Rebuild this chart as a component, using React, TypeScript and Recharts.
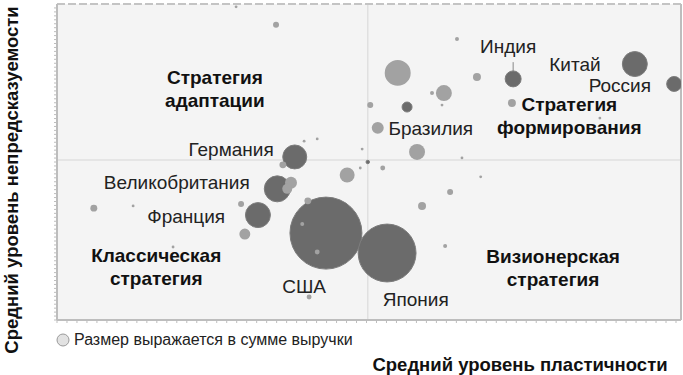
import {
  ScatterChart,
  Scatter,
  XAxis,
  YAxis,
  ZAxis,
  CartesianGrid,
  ReferenceLine,
  ReferenceDot,
} from 'recharts';

// x = средний уровень пластичности, y = средний уровень непредсказуемости, z = выручка
const darkPoints = [
  { x: 7.31, y: 7.63, z: 64 },
  { x: 9.26, y: 8.1, z: 156 },
  { x: 9.89, y: 7.47, z: 56 },
  { x: 5.61, y: 6.74, z: 25 },
  { x: 3.81, y: 5.16, z: 144 },
  { x: 3.53, y: 4.15, z: 169 },
  { x: 3.22, y: 3.32, z: 156 },
  { x: 4.31, y: 2.75, z: 1300 },
  { x: 5.29, y: 2.12, z: 840 },
  { x: 4.98, y: 5.0, z: 3 },
];

const lightPoints = [
  { x: 2.87, y: 9.91, z: 2 },
  { x: 3.51, y: 9.34, z: 9 },
  { x: 5.46, y: 7.82, z: 169 },
  { x: 6.41, y: 8.89, z: 4 },
  { x: 6.73, y: 7.69, z: 16 },
  { x: 6.2, y: 7.18, z: 64 },
  { x: 6.01, y: 7.18, z: 4 },
  { x: 6.17, y: 6.8, z: 2 },
  { x: 5.02, y: 6.8, z: 9 },
  { x: 7.29, y: 6.87, z: 16 },
  { x: 8.7, y: 6.39, z: 2 },
  { x: 5.14, y: 6.08, z: 36 },
  { x: 5.77, y: 5.32, z: 64 },
  { x: 4.89, y: 5.41, z: 2 },
  { x: 6.49, y: 5.13, z: 2 },
  { x: 4.86, y: 4.81, z: 2 },
  { x: 5.22, y: 4.81, z: 6 },
  { x: 4.65, y: 4.59, z: 56 },
  { x: 6.79, y: 4.53, z: 2 },
  { x: 3.96, y: 5.66, z: 2 },
  { x: 4.17, y: 5.73, z: 2 },
  { x: 3.62, y: 4.91, z: 12 },
  { x: 3.75, y: 4.34, z: 36 },
  { x: 3.69, y: 4.15, z: 25 },
  { x: 6.3, y: 4.05, z: 9 },
  { x: 5.85, y: 3.61, z: 16 },
  { x: 6.22, y: 2.34, z: 4 },
  { x: 4.02, y: 3.77, z: 12 },
  { x: 3.93, y: 3.04, z: 4 },
  { x: 4.17, y: 2.15, z: 6 },
  { x: 4.04, y: 0.73, z: 6 },
  { x: 0.59, y: 3.54, z: 12 },
  { x: 1.22, y: 3.61, z: 2 },
  { x: 2.95, y: 3.67, z: 9 },
  { x: 3.01, y: 2.72, z: 30 },
  { x: 1.86, y: 2.31, z: 2 },
];

const countryLabels = [
  { name: 'Индия', x: 7.23, y: 8.67 },
  { name: 'Китай', x: 8.3, y: 8.1 },
  { name: 'Россия', x: 9.02, y: 7.44 },
  { name: 'Бразилия', x: 5.99, y: 6.08 },
  { name: 'Германия', x: 2.79, y: 5.41 },
  { name: 'Великобритания', x: 1.92, y: 4.37 },
  { name: 'Франция', x: 2.07, y: 3.29 },
  { name: 'США', x: 3.96, y: 1.08 },
  { name: 'Япония', x: 5.75, y: 0.66 },
];

const quadrantLabels = [
  { name: 'Стратегия', x: 2.53, y: 7.69 },
  { name: 'адаптации', x: 2.53, y: 6.96 },
  { name: 'Стратегия', x: 8.21, y: 6.84 },
  { name: 'формирования', x: 8.21, y: 6.11 },
  { name: 'Классическая', x: 1.59, y: 2.06 },
  { name: 'стратегия', x: 1.59, y: 1.33 },
  { name: 'Визионерская', x: 7.95, y: 2.03 },
  { name: 'стратегия', x: 7.95, y: 1.3 },
];

const xTicks = Array.from({ length: 63 }, (_, i) => i * 0.16);
const yTicks = Array.from({ length: 80 }, (_, i) => i * 0.125);

const FONT = '"Liberation Sans", Arial, Helvetica, sans-serif';
const DARK = '#6b6b6b';
const LIGHT = '#a2a2a2';
const AXIS = '#bdbdbd';

const App = () => {
  return (
    <div style={{ position: 'absolute', left: 0, top: 0, width: 683, height: 375, background: '#fff', fontFamily: FONT }}>
      <ScatterChart width={683} height={375} margin={{ top: 4, right: 2, bottom: 54, left: 56 }}>
        <CartesianGrid fill="#f4f4f4" horizontal={false} vertical={false} />
        <XAxis
          type="number"
          dataKey="x"
          domain={[0, 10]}
          ticks={xTicks}
          interval={0}
          height={1}
          axisLine={{ stroke: AXIS, strokeWidth: 2 }}
          tickLine={{ stroke: AXIS }}
          tickSize={3}
          tick={() => <g />}
          allowDataOverflow
        />
        <YAxis
          type="number"
          dataKey="y"
          domain={[0, 10]}
          ticks={yTicks}
          interval={0}
          width={1}
          axisLine={{ stroke: AXIS, strokeWidth: 2 }}
          tickLine={{ stroke: AXIS }}
          tickSize={3}
          tick={() => <g />}
          allowDataOverflow
        />
        <ZAxis type="number" dataKey="z" domain={[0, 1300]} range={[0, 4072]} />
        <ReferenceLine x={4.98} stroke="#e0e0e0" strokeWidth={1.5} />
        <ReferenceLine y={5.06} stroke="#e0e0e0" strokeWidth={1.5} />
        <ReferenceLine y={10} stroke="#c4c4c4" strokeWidth={2} strokeDasharray="8 3" />
        <ReferenceLine x={10} stroke={AXIS} strokeWidth={2} />
        <ReferenceLine x={0} stroke={AXIS} strokeWidth={2} />
        <ReferenceLine y={0} stroke={AXIS} strokeWidth={2} />
        <ReferenceLine segment={[{ x: 7.31, y: 8.16 }, { x: 7.31, y: 7.88 }]} stroke="#888" />
        <Scatter data={darkPoints} fill={DARK} stroke="#7c7c7c" strokeWidth={1} isAnimationActive={false} />
        <Scatter data={lightPoints} fill={LIGHT} isAnimationActive={false} />
        {countryLabels.map((l, i) => (
          <ReferenceDot
            key={`c-${i}`}
            x={l.x}
            y={l.y}
            r={0}
            stroke="none"
            label={{ value: l.name, position: 'center', fill: '#222', fontSize: 19, fontFamily: FONT }}
          />
        ))}
        {quadrantLabels.map((l, i) => (
          <ReferenceDot
            key={`q-${i}`}
            x={l.x}
            y={l.y}
            r={0}
            stroke="none"
            label={{ value: l.name, position: 'center', fill: '#111', fontSize: 19, fontWeight: 'bold', fontFamily: FONT }}
          />
        ))}
      </ScatterChart>
      <div
        style={{
          position: 'absolute',
          left: 56,
          top: 331,
          display: 'flex',
          alignItems: 'center',
          fontSize: 16,
          color: '#222',
          whiteSpace: 'nowrap',
        }}
      >
        <svg width={14} height={14} style={{ marginRight: 4 }}>
          <circle cx={7} cy={7} r={6} fill="#e2e2e2" stroke="#9a9a9a" strokeWidth={1} />
        </svg>
        Размер выражается в сумме выручки
      </div>
      <div
        style={{
          position: 'absolute',
          left: 12,
          top: 180,
          transform: 'translate(-50%, -50%) rotate(-90deg)',
          whiteSpace: 'nowrap',
          fontWeight: 'bold',
          fontSize: 18.5,
          color: '#111',
        }}
      >
        Средний уровень непредсказуемости
      </div>
      <div
        style={{
          position: 'absolute',
          left: 520,
          top: 365,
          transform: 'translate(-50%, -50%)',
          whiteSpace: 'nowrap',
          fontWeight: 'bold',
          fontSize: 18.5,
          color: '#111',
        }}
      >
        Средний уровень пластичности
      </div>
    </div>
  );
};

export default App;
